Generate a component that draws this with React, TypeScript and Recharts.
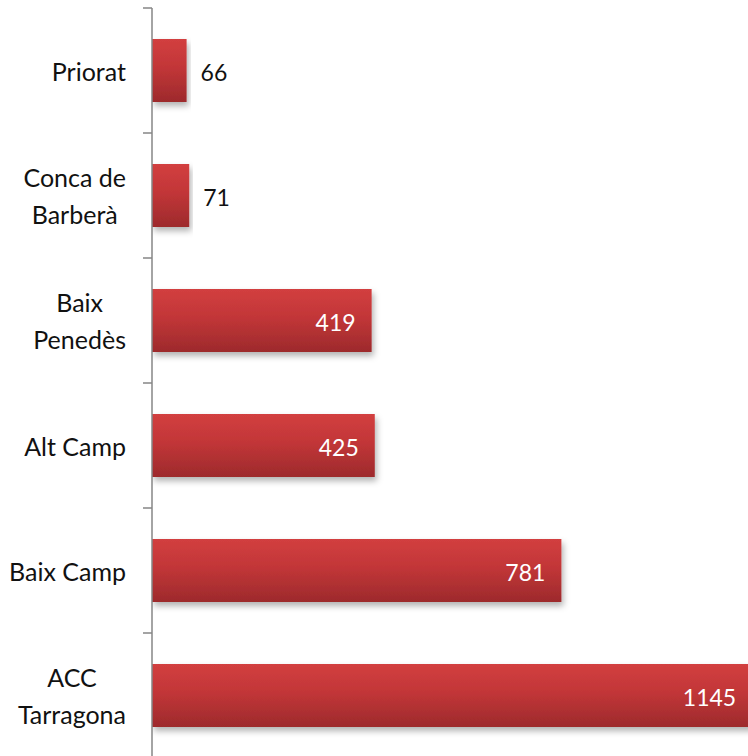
import { Bar, BarChart, LabelList, XAxis, YAxis } from "recharts"

const categories = ["Priorat", "Conca de\nBarberà", "Baix\nPenedès", "Alt Camp", "Baix Camp", "ACC\nTarragona"]
const values = [66, 71, 419, 425, 781, 1145]

const data = categories.map((name, i) => ({ name, value: values[i] }))

const W = 748
const H = 758
const TOP = 8
const AXIS_X = 152
const CAT_FONT = 25
const VAL_FONT = 23
const FONT = "Lato, 'Noto Sans', sans-serif"

let canvasCtx: CanvasRenderingContext2D | null = null
function measure(text: string, size: number) {
  if (!canvasCtx) canvasCtx = document.createElement("canvas").getContext("2d")
  if (!canvasCtx) return text.length * size * 0.5
  canvasCtx.font = `${size}px Lato`
  return canvasCtx.measureText(text).width
}

const band = (H - TOP) / categories.length

function CategoryTick(props: any) {
  const { y, payload, index } = props
  const lines = String(payload.value).split("\n")
  const right = AXIS_X - 26
  const lineH = 37
  const maxW = Math.max(...lines.map((l) => measure(l, CAT_FONT)))
  const cx = lines.length > 1 ? right - maxW / 2 : right
  const anchor = lines.length > 1 ? "middle" : "end"
  const startY = y - ((lines.length - 1) * lineH) / 2
  return (
    <g>
      <line x1={AXIS_X - 9} x2={AXIS_X} y1={y - band / 2} y2={y - band / 2} stroke="#868686" strokeWidth={1.5} />
      {index === categories.length - 1 && (
        <line x1={AXIS_X - 9} x2={AXIS_X} y1={y + band / 2} y2={y + band / 2} stroke="#868686" strokeWidth={1.5} />
      )}
      <text x={cx} y={startY} textAnchor={anchor} fill="#111" fontSize={CAT_FONT} fontFamily={FONT} dominantBaseline="central">
        {lines.map((l, i) => (
          <tspan key={i} x={cx} dy={i === 0 ? 0 : lineH}>
            {l}
          </tspan>
        ))}
      </text>
    </g>
  )
}

function ValueLabel(props: any) {
  const { x, y, width, height, value } = props
  const inside = value > 200
  const tx = inside ? x + width - 16 : x + width + 14
  return (
    <text
      x={tx}
      y={y + height / 2 + 1}
      textAnchor={inside ? "end" : "start"}
      dominantBaseline="central"
      fill={inside ? "#fff" : "#111"}
      fontSize={VAL_FONT}
      fontFamily={FONT}
    >
      {value}
    </text>
  )
}

function BarShape(props: any) {
  const { x, y, width, height } = props
  return <rect x={x} y={y} width={width} height={height} fill="url(#barGrad)" filter="url(#barShadow)" />
}

export default function App() {
  return (
    <div style={{ position: "fixed", left: 0, top: 0, width: W, height: 756, overflow: "hidden", background: "#fff" }}>
      <BarChart
        width={W}
        height={H}
        data={data}
        layout="vertical"
        barCategoryGap={0}
        margin={{ top: TOP, right: 0, bottom: 0, left: 0 }}
      >
        <defs>
          <linearGradient id="barGrad" x1="0" y1="0" x2="0" y2="1">
            <stop offset="0%" stopColor="#d23f3f" />
            <stop offset="45%" stopColor="#c23638" />
            <stop offset="100%" stopColor="#9d2a2c" />
          </linearGradient>
          <filter id="barShadow" x="-5%" y="-20%" width="115%" height="150%">
            <feDropShadow dx={2} dy={4} stdDeviation={3} floodColor="#000" floodOpacity={0.3} />
          </filter>
        </defs>
        <XAxis type="number" hide domain={[0, 1137]} allowDataOverflow />
        <YAxis
          type="category"
          dataKey="name"
          width={AXIS_X}
          axisLine={{ stroke: "#868686", strokeWidth: 1.5 }}
          tickLine={false}
          tick={<CategoryTick />}
          interval={0}
        />
        <Bar dataKey="value" barSize={63} shape={<BarShape />} isAnimationActive={false}>
          <LabelList dataKey="value" content={<ValueLabel />} />
        </Bar>
      </BarChart>
    </div>
  )
}
